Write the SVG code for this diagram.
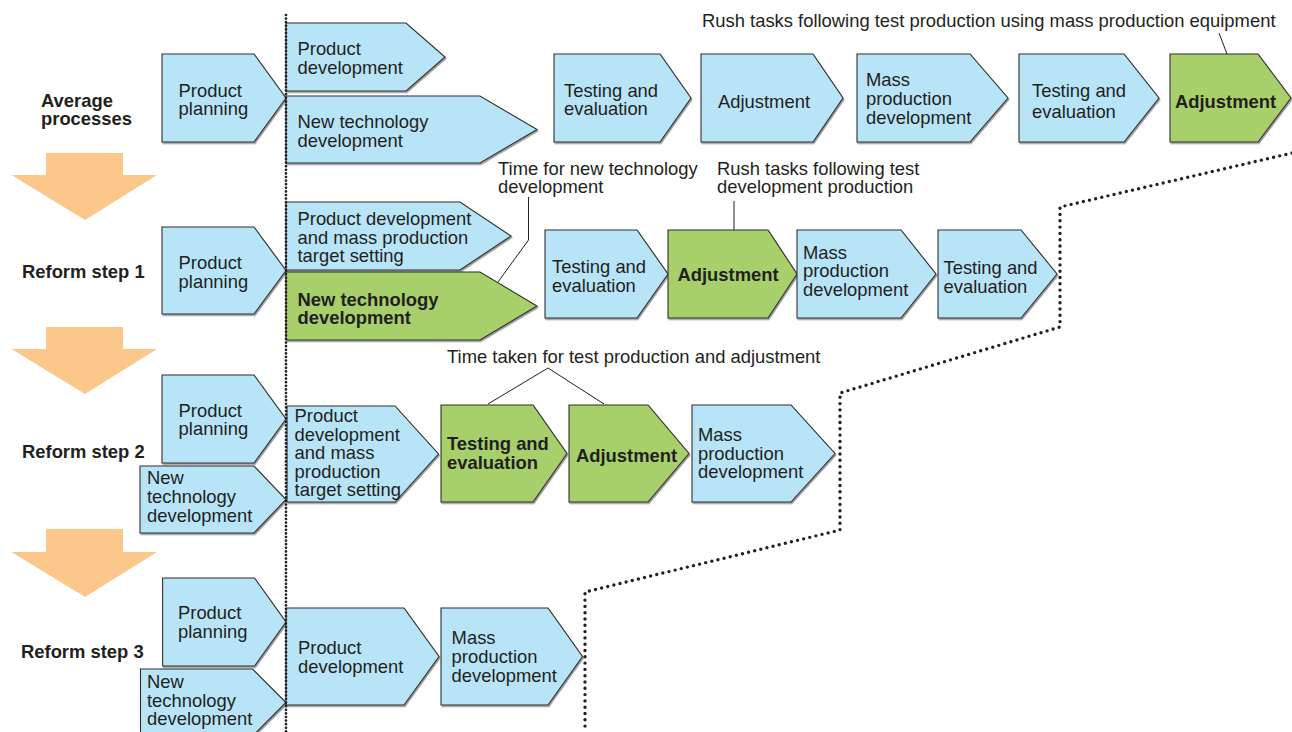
<svg xmlns="http://www.w3.org/2000/svg" width="1292" height="732" viewBox="0 0 1292 732">
<defs>
<filter id="sh" x="-5%" y="-5%" width="110%" height="115%">
<feDropShadow dx="1" dy="1.5" stdDeviation="0.4" flood-color="#7a7a7a" flood-opacity="0.8"/>
</filter>
<style>
.b{fill:#B8E4F8;stroke:#2f2f2f;stroke-width:1.1;filter:url(#sh)}
.g{fill:#A8D06B;stroke:#2f2f2f;stroke-width:1.1;filter:url(#sh)}
.t{font-family:"Liberation Sans",Arial,sans-serif;font-size:18.4px;fill:#231F20}
.tb{font-weight:bold}
.o{fill:#FBC78B}
.dotv{fill:none;stroke:#231F20;stroke-width:2.7;stroke-linecap:round;stroke-dasharray:0 3.6}
.dot{fill:none;stroke:#231F20;stroke-width:3.4;stroke-linecap:round;stroke-dasharray:0 6.3}
.cl{fill:none;stroke:#231F20;stroke-width:1}
</style>
</defs>
<rect width="1292" height="732" fill="#ffffff"/>

<!-- row labels and big arrows -->
<g id="labels">
<text class="t tb" x="41" y="107">Average</text>
<text class="t tb" x="41" y="124.5">processes</text>
<text class="t tb" x="22" y="278">Reform step 1</text>
<text class="t tb" x="22" y="458">Reform step 2</text>
<text class="t tb" x="21" y="658">Reform step 3</text>
</g>
<g id="step-arrows">
<polygon class="o" points="46,153 123,153 123,175 157,175 85,220 11.5,175 46,175"/>
<polygon class="o" points="46,327 123,327 123,349 157,349 85,394 11.5,349 46,349"/>
<polygon class="o" points="46,529 123,529 123,552 157,552 85,597 11.5,552 46,552"/>
</g>

<!-- Row 1 -->
<g id="r1-pp"><polygon class="b" points="162,54 254,54 286,98 254,142 162,142"/>
<text class="t" x="178.6" y="96.5">Product</text><text class="t" x="178.6" y="115">planning</text></g>
<g id="r1-pd"><polygon class="b" points="286,23 406,23 445,57 406,91 286,91"/>
<text class="t" x="297.5" y="55">Product</text><text class="t" x="297.5" y="74">development</text></g>
<g id="r1-ntd"><polygon class="b" points="286,96 480,96 537,129.5 480,163 286,163"/>
<text class="t" x="297.5" y="128">New technology</text><text class="t" x="297.5" y="146.5">development</text></g>
<g id="r1-te"><polygon class="b" points="554,54 660,54 691,98 660,142 554,142"/>
<text class="t" x="564" y="96.5">Testing and</text><text class="t" x="564" y="115">evaluation</text></g>
<g id="r1-adj"><polygon class="b" points="701,54 813,54 843,98 813,142 701,142"/>
<text class="t" x="718" y="108">Adjustment</text></g>
<g id="r1-mpd"><polygon class="b" points="857,54 970,54 1008,98 970,142 857,142"/>
<text class="t" x="866" y="86">Mass</text><text class="t" x="866" y="105">production</text><text class="t" x="866" y="123.5">development</text></g>
<g id="r1-te2"><polygon class="b" points="1019,54 1124,54 1159,98 1124,142 1019,142"/>
<text class="t" x="1032" y="96.5">Testing and</text><text class="t" x="1032" y="118">evaluation</text></g>
<g id="r1-adj2"><polygon class="g" points="1170,54 1258,54 1291,98 1258,142 1170,142"/>
<text class="t tb" x="1175" y="108">Adjustment</text></g>

<!-- Row 2 -->
<g id="r2-pp"><polygon class="b" points="162,227 254,227 286,270.5 254,314 162,314"/>
<text class="t" x="178.6" y="269">Product</text><text class="t" x="178.6" y="287.5">planning</text></g>
<g id="r2-pdmp"><polygon class="b" points="286,202 460,202 511,236 460,270 286,270"/>
<text class="t" x="297.5" y="225">Product development</text><text class="t" x="297.5" y="243.5">and mass production</text><text class="t" x="297.5" y="262">target setting</text></g>
<g id="r2-ntd"><polygon class="g" points="286,272 480,272 537,306 480,340 286,340"/>
<text class="t tb" x="297.5" y="306">New technology</text><text class="t tb" x="297.5" y="323.5">development</text></g>
<g id="r2-te"><polygon class="b" points="545,230 637,230 668,274 637,318 545,318"/>
<text class="t" x="552" y="273">Testing and</text><text class="t" x="552" y="291.5">evaluation</text></g>
<g id="r2-adj"><polygon class="g" points="668,230 768,230 797,274 768,318 668,318"/>
<text class="t tb" x="677.5" y="281">Adjustment</text></g>
<g id="r2-mpd"><polygon class="b" points="797,230 901,230 936,274 901,318 797,318"/>
<text class="t" x="803" y="258.5">Mass</text><text class="t" x="803" y="277">production</text><text class="t" x="803" y="295.5">development</text></g>
<g id="r2-te2"><polygon class="b" points="938,230 1021,230 1057,274 1021,318 938,318"/>
<text class="t" x="943.5" y="274">Testing and</text><text class="t" x="943.5" y="293">evaluation</text></g>

<!-- Row 3 -->
<g id="r3-pp"><polygon class="b" points="162,375 254,375 286,419 254,463 162,463"/>
<text class="t" x="178.6" y="416.5">Product</text><text class="t" x="178.6" y="435">planning</text></g>
<g id="r3-ntd"><polygon class="b" points="140,466 254,466 286,499.5 254,533 140,533"/>
<text class="t" x="147" y="484">New</text><text class="t" x="147" y="503">technology</text><text class="t" x="147" y="522">development</text></g>
<g id="r3-pdmp"><polygon class="b" points="287,406 395,406 438.5,454 395,502 287,502"/>
<text class="t" x="294.6" y="422">Product</text><text class="t" x="294.6" y="440.5">development</text><text class="t" x="294.6" y="459">and mass</text><text class="t" x="294.6" y="477.5">production</text><text class="t" x="294.6" y="496">target setting</text></g>
<g id="r3-te"><polygon class="g" points="441,405 533,405 567,453.5 533,502 441,502"/>
<text class="t tb" x="447" y="450">Testing and</text><text class="t tb" x="447" y="469">evaluation</text></g>
<g id="r3-adj"><polygon class="g" points="569,405 648,405 689,453.5 648,502 569,502"/>
<text class="t tb" x="576" y="462">Adjustment</text></g>
<g id="r3-mpd"><polygon class="b" points="692,405 791,405 835,453.5 791,502 692,502"/>
<text class="t" x="698" y="441">Mass</text><text class="t" x="698" y="459.5">production</text><text class="t" x="698" y="478">development</text></g>

<!-- Row 4 -->
<g id="r4-pp"><polygon class="b" points="162.6,578 254.5,578 286,622 254.5,666 162.6,666"/>
<text class="t" x="178" y="619">Product</text><text class="t" x="178" y="638">planning</text></g>
<g id="r4-ntd"><polygon class="b" points="140.5,669 252.6,669 286,702.5 252.6,736 140.5,736"/>
<text class="t" x="147" y="688">New</text><text class="t" x="147" y="707">technology</text><text class="t" x="147" y="725">development</text></g>
<g id="r4-pd"><polygon class="b" points="286,608 404,608 439,656.5 404,705 286,705"/>
<text class="t" x="298" y="654">Product</text><text class="t" x="298" y="673">development</text></g>
<g id="r4-mpd"><polygon class="b" points="441,608 548,608 582.5,656.5 548,705 441,705"/>
<text class="t" x="451.6" y="644">Mass</text><text class="t" x="451.6" y="663">production</text><text class="t" x="451.6" y="682">development</text></g>

<!-- callouts -->
<g id="callouts">
<text class="t" x="702" y="27">Rush tasks following test production using mass production equipment</text>
<text class="t" x="498" y="175">Time for new technology</text>
<text class="t" x="498" y="193">development</text>
<text class="t" x="717" y="175">Rush tasks following test</text>
<text class="t" x="717" y="193">development production</text>
<text class="t" x="447" y="363">Time taken for test production and adjustment</text>
</g>

<g id="connectors">
<line class="cl" x1="1219" y1="33" x2="1227" y2="54"/>
<polyline class="cl" points="528.5,197 528.5,240 498,282"/>
<line class="cl" x1="734" y1="201" x2="734" y2="230"/>
<polyline class="cl" points="488,404 548,368 604,404"/>
<line class="dotv" x1="286" y1="15" x2="286" y2="732"/>
<polyline class="dot" points="1292,153 1060,207 1060,327 840,393 840,530 585,592 585,732"/>
</g>
</svg>
